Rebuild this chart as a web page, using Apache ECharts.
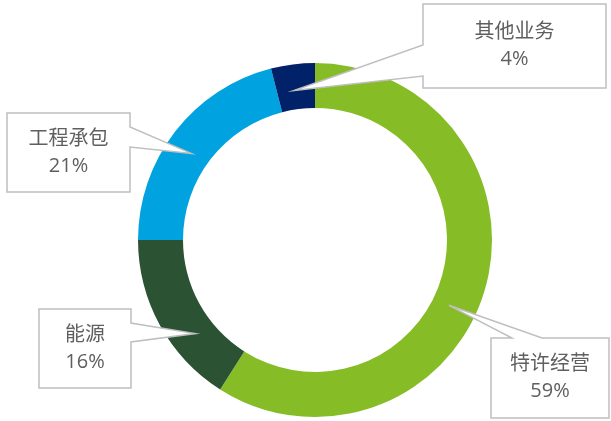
<!DOCTYPE html>
<html>
<head>
<meta charset="utf-8">
<script src="https://cdn.jsdelivr.net/npm/echarts@6/dist/echarts.min.js"></script>
<style>
	html, body { margin: 0; padding: 0; background: #fff; }
	#main { width: 611px; height: 421px; }
</style>
</head>
<body>
<div id="main"></div>
<script>
// 数据
var names = ['特许经营', '能源', '工程承包', '其他业务'];
var values = [59, 16, 21, 4];
var colors = ['#86bc25', '#2c5234', '#00a3e0', '#012169'];

// 环形图位置
var cx = 315, cy = 240;
var rIn = 132, rOut = 177;

// 标注框：x, y, w, h, 楔形所在边, 楔形在边上的起止位置, 指针角度(自顶部顺时针), 指针半径
var boxes = [
	{ x: 491, y: 338, w: 118, h: 80, side: 'top', a: 21, b: 51, tipAng: 116, tipR: 149 },
	{ x: 39, y: 309, w: 92, h: 79, side: 'right', a: 14, b: 33, tipAng: 232, tipR: 152 },
	{ x: 7, y: 113, w: 123, h: 79, side: 'right', a: 14, b: 34, tipAng: 305, tipR: 151 },
	{ x: 423, y: 4, w: 183, h: 84, side: 'left', a: 41, b: 72, tipAng: 352, tipR: 151 }
];

var chart = echarts.init(document.getElementById('main'));

var total = values.reduce(function (s, v) { return s + v; }, 0);

function calloutPoints(box, tip) {
	var x0 = box.x, y0 = box.y, x1 = box.x + box.w, y1 = box.y + box.h;
	if (box.side == 'top') {
		return [[x0, y0], [x0 + box.a, y0], tip, [x0 + box.b, y0], [x1, y0], [x1, y1], [x0, y1]];
	}
	if (box.side == 'right') {
		return [[x0, y0], [x1, y0], [x1, y0 + box.a], tip, [x1, y0 + box.b], [x1, y1], [x0, y1]];
	}
	return [[x0, y0], [x1, y0], [x1, y1], [x0, y1], [x0, y0 + box.b], tip, [x0, y0 + box.a]];
}

var graphics = [];
values.forEach(function (v, i) {
	var box = boxes[i];
	var ang = box.tipAng * Math.PI / 180;
	var tip = [cx + box.tipR * Math.sin(ang), cy - box.tipR * Math.cos(ang)];
	graphics.push({
		type: 'polygon',
		z: 10,
		shape: { points: calloutPoints(box, tip) },
		style: { fill: '#fff', stroke: '#bfbfbf', lineWidth: 1.5 }
	});
	graphics.push({
		type: 'text',
		z: 11,
		x: box.x + box.w / 2,
		y: box.y + box.h / 2,
		style: {
			text: names[i] + '\n' + Math.round(v / total * 100) + '%',
			fill: '#5f5f5f',
			font: '20px "Open Sans", "Noto Sans CJK SC", sans-serif',
			lineHeight: 27,
			align: 'center',
			verticalAlign: 'middle'
		}
	});
});

var option = {
	animation: false,
	color: colors,
	series: [{
		type: 'pie',
		z: 2,
		center: [cx, cy],
		radius: [rIn, rOut],
		startAngle: 90,
		clockwise: true,
		silent: true,
		label: { show: false },
		labelLine: { show: false },
		itemStyle: { borderWidth: 0 },
		data: names.map(function (n, i) {
			return { name: n, value: values[i] };
		})
	}],
	graphic: graphics
};

chart.setOption(option);
</script>
</body>
</html>
